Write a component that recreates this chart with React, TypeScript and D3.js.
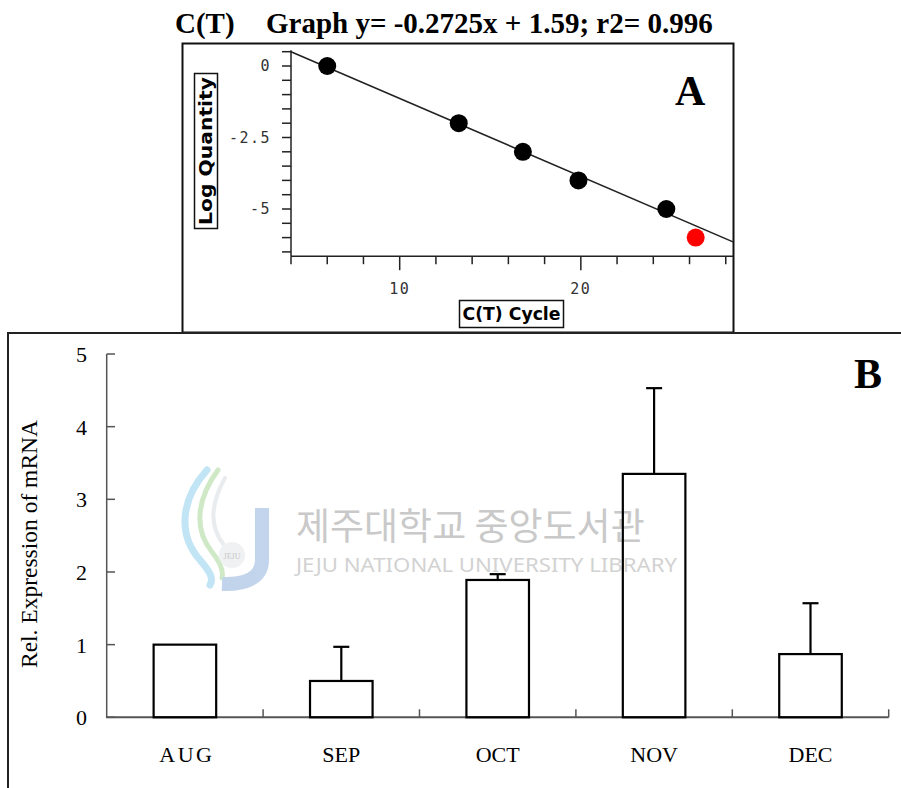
import React from "react";
import * as d3 from "d3";

// ---------- Panel A data (standard curve) ----------
const ctCycle = [6.0, 13.26, 16.8, 19.87, 24.72];
const logQuantity = [0, -2, -3, -4, -5];
const unknownCycle = [26.34];
const unknownLogQuantity = [-6];
const fitSlope = -0.2725;
const fitIntercept = 1.59;
const yTicksA = [0, -2.5, -5];
const xTicksA = [10, 20];

// ---------- Panel B data (relative expression) ----------
const months = ["AUG", "SEP", "OCT", "NOV", "DEC"];
const relExpression = [1.0, 0.5, 1.89, 3.35, 0.87];
const errorUpper = [0, 0.47, 0.08, 1.18, 0.7];
const yTicksB = [0, 1, 2, 3, 4, 5];

const W = 901;
const H = 788;

export default function App() {
  // Panel A scales
  const xA = d3.scaleLinear().domain([4, 28.4]).range([291, 733]);
  const yA = d3.scaleLinear().domain([0, -5]).range([66, 209]);
  const yAxisTopA = 0.55;
  const yAxisBotA = -6.65;
  const xMinorA = d3.range(4, 28.01, 2);
  const yMinorA = d3.range(0.5, -6.51, -0.5);
  const fitLine = d3
    .line<number>()
    .x((d) => xA(d))
    .y((d) => yA(fitSlope * d + fitIntercept));

  // Panel B scales
  const xB = d3
    .scaleBand<string>()
    .domain(months)
    .range([106.7, 888.7])
    .paddingInner(0.6)
    .paddingOuter(0.3);
  const yB = d3.scaleLinear().domain([0, 5]).range([717.3, 354]);
  const step = xB.step();
  const boundaries = months.map((_, i) => 106.7 + step * (i + 1));

  const serif = "'Liberation Serif', 'Times New Roman', serif";
  const mono = "'DejaVu Sans Mono', monospace";
  const sansBold = "'DejaVu Sans', 'Liberation Sans', sans-serif";

  return (
    <svg
      width={W}
      height={H}
      style={{ position: "absolute", left: 0, top: 0, background: "#fff" }}
    >
      <rect x={0} y={0} width={W} height={H} fill="#fff" />

      {/* ---------- Title ---------- */}
      <text x={175} y={33} fontFamily={serif} fontWeight="bold" fontSize={29} fill="#000">
        C(T)
      </text>
      <text x={266} y={33} fontFamily={serif} fontWeight="bold" fontSize={29} fill="#000">
        Graph y= -0.2725x + 1.59; r2= 0.996
      </text>

      {/* ---------- Panel A ---------- */}
      <rect x={182.5} y={43.5} width={551} height={289} fill="#fff" stroke="#111" strokeWidth={2} />

      {/* y axis */}
      <line x1={xA(4)} x2={xA(4)} y1={yA(yAxisTopA)} y2={yA(yAxisBotA)} stroke="#222" strokeWidth={1.5} />
      {yMinorA.map((v) => (
        <line key={"ym" + v} x1={xA(4) - 9} x2={xA(4)} y1={yA(v)} y2={yA(v)} stroke="#222" strokeWidth={1.5} />
      ))}
      {yTicksA.map((v) => (
        <text
          key={"yl" + v}
          x={271}
          y={yA(v) + 5}
          textAnchor="end"
          fontFamily={mono}
          fontSize={15}
          letterSpacing={1.5}
          fill="#333"
        >
          {v === 0 ? "0" : String(v)}
        </text>
      ))}

      {/* x axis */}
      <line x1={xA(4)} x2={733} y1={yA(yAxisBotA)} y2={yA(yAxisBotA)} stroke="#222" strokeWidth={1.5} />
      {xMinorA.map((v) => (
        <line
          key={"xm" + v}
          x1={xA(v)}
          x2={xA(v)}
          y1={yA(yAxisBotA)}
          y2={yA(yAxisBotA) + (xTicksA.includes(v) ? 14 : 8)}
          stroke="#222"
          strokeWidth={1.5}
        />
      ))}
      {xTicksA.map((v) => (
        <text
          key={"xl" + v}
          x={xA(v)}
          y={294}
          textAnchor="middle"
          fontFamily={mono}
          fontSize={15}
          letterSpacing={1.5}
          fill="#333"
        >
          {v}
        </text>
      ))}

      {/* axis title boxes */}
      <rect x={459.5} y={300.5} width={104} height={27} fill="#fff" stroke="#111" strokeWidth={1.5} />
      <text
        x={511.5}
        y={320}
        textAnchor="middle"
        fontFamily={sansBold}
        fontWeight="bold"
        fontSize={17}
        textLength={98}
        lengthAdjust="spacingAndGlyphs"
        fill="#000"
      >
        C(T) Cycle
      </text>
      <rect x={194.5} y={73.5} width={23} height={155} fill="#fff" stroke="#111" strokeWidth={1.5} />
      <text
        transform="translate(212,151) rotate(-90)"
        textAnchor="middle"
        fontFamily={sansBold}
        fontWeight="bold"
        fontSize={18}
        textLength={148}
        lengthAdjust="spacingAndGlyphs"
        fill="#000"
      >
        Log Quantity
      </text>

      {/* fit line */}
      <path d={fitLine([4, 28.4]) || ""} fill="none" stroke="#222" strokeWidth={1.6} />

      {/* points */}
      {ctCycle.map((c, i) => (
        <circle key={"p" + i} cx={xA(c)} cy={yA(logQuantity[i])} r={9} fill="#000" />
      ))}
      {unknownCycle.map((c, i) => (
        <circle key={"u" + i} cx={xA(c)} cy={yA(unknownLogQuantity[i])} r={9} fill="#ff0000" />
      ))}

      <text x={675} y={105} fontFamily={serif} fontWeight="bold" fontSize={42} fill="#000">
        A
      </text>

      {/* ---------- Panel B ---------- */}
      <line x1={7} x2={W} y1={333} y2={333} stroke="#222" strokeWidth={2} />
      <line x1={8} x2={8} y1={332} y2={H} stroke="#222" strokeWidth={2} />

      {/* watermark */}
      <g opacity={0.55}>
        <path d="M207,470 C180,500 178,535 200,560 C210,572 214,578 210,585" fill="none" stroke="#8fd0ee" strokeWidth={7} strokeLinecap="round" />
        <path d="M218,470 C196,500 194,530 212,552 C220,562 224,570 222,578" fill="none" stroke="#a8d89a" strokeWidth={5} strokeLinecap="round" />
        <path d="M225,478 C210,505 210,528 224,545" fill="none" stroke="#d8dde2" strokeWidth={4} strokeLinecap="round" />
        <path d="M262,508 L262,560 C262,578 245,585 222,584" fill="none" stroke="#8fb2dc" strokeWidth={14} />
        <circle cx={232} cy={555} r={13} fill="#e4e6ea" />
        <text x={232} y={559} textAnchor="middle" fontFamily={serif} fontSize={8} fill="#999">JEJU</text>
      </g>
      <text x={296} y={540} fontFamily="'Noto Sans CJK KR', sans-serif" fontSize={37} fill="#c9c9c9">
        제주대학교 중앙도서관
      </text>
      <text
        x={296}
        y={572}
        fontFamily="'Noto Sans', 'DejaVu Sans', sans-serif"
        fontSize={20}
        textLength={381}
        lengthAdjust="spacingAndGlyphs"
        fill="#d2d2d2"
      >
        JEJU NATIONAL UNIVERSITY  LIBRARY
      </text>

      {/* axes */}
      <line x1={106.7} x2={106.7} y1={yB(5)} y2={yB(0)} stroke="#555" strokeWidth={1.5} />
      {yTicksB.map((v) => (
        <g key={"yb" + v}>
          <line x1={106.7} x2={115} y1={yB(v)} y2={yB(v)} stroke="#555" strokeWidth={1.5} />
          <text x={87} y={yB(v) + 8} textAnchor="end" fontFamily={serif} fontSize={22} fill="#000">
            {v}
          </text>
        </g>
      ))}
      <line x1={106} x2={888.7} y1={yB(0)} y2={yB(0)} stroke="#555" strokeWidth={2} />
      {boundaries.map((b, i) => (
        <line key={"xb" + i} x1={b} x2={b} y1={yB(0)} y2={yB(0) - 8} stroke="#555" strokeWidth={1.5} />
      ))}

      {/* bars */}
      {months.map((m, i) => (
        <rect
          key={"bar" + m}
          x={xB(m)}
          y={yB(relExpression[i])}
          width={xB.bandwidth()}
          height={yB(0) - yB(relExpression[i])}
          fill="none"
          stroke="#000"
          strokeWidth={2.2}
        />
      ))}
      {/* error bars */}
      {months.map((m, i) =>
        errorUpper[i] > 0 ? (
          <g key={"err" + m}>
            <line
              x1={(xB(m) || 0) + xB.bandwidth() / 2}
              x2={(xB(m) || 0) + xB.bandwidth() / 2}
              y1={yB(relExpression[i])}
              y2={yB(relExpression[i] + errorUpper[i])}
              stroke="#000"
              strokeWidth={2.2}
            />
            <line
              x1={(xB(m) || 0) + xB.bandwidth() / 2 - 8}
              x2={(xB(m) || 0) + xB.bandwidth() / 2 + 8}
              y1={yB(relExpression[i] + errorUpper[i])}
              y2={yB(relExpression[i] + errorUpper[i])}
              stroke="#000"
              strokeWidth={2.2}
            />
          </g>
        ) : null
      )}

      {/* x labels */}
      {months.map((m) => (
        <text
          key={"lab" + m}
          x={(xB(m) || 0) + xB.bandwidth() / 2 + (m === "AUG" ? 2 : 0)}
          y={762}
          textAnchor="middle"
          fontFamily={serif}
          fontSize={22}
          letterSpacing={m === "AUG" ? 2.5 : 0}
          fill="#000"
        >
          {m}
        </text>
      ))}

      {/* y title */}
      <text
        transform="translate(37,544) rotate(-90)"
        textAnchor="middle"
        fontFamily={serif}
        fontSize={23.5}
        fill="#000"
      >
        Rel. Expression of mRNA
      </text>

      <text x={854} y={388} fontFamily={serif} fontWeight="bold" fontSize={42} fill="#000">
        B
      </text>
    </svg>
  );
}
